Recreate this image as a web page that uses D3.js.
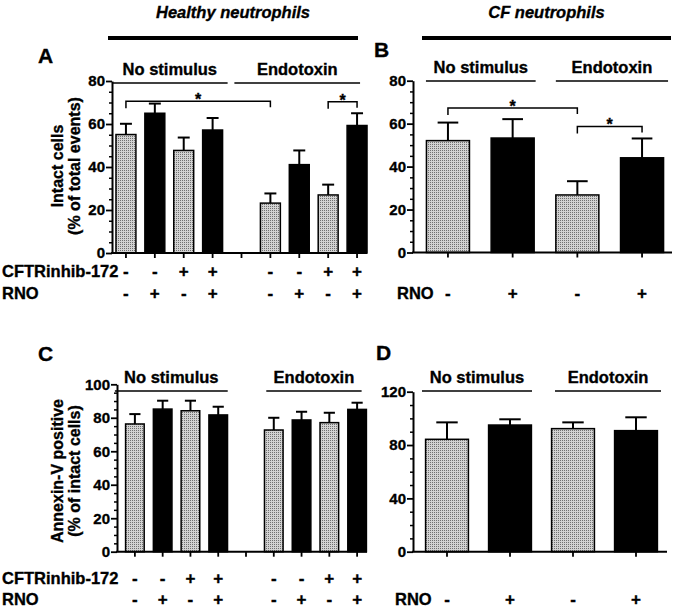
<!DOCTYPE html>
<html><head><meta charset="utf-8">
<script src="https://cdn.jsdelivr.net/npm/d3@7/dist/d3.min.js"></script>
<style>
body{margin:0;background:#fff;}
text{font-family:"Liberation Sans",Arial,sans-serif;font-weight:bold;fill:#000;stroke:#000;stroke-width:0.35px;}
</style></head>
<body>
<svg id="chart" width="677" height="607"></svg>
<script>
// ---------- DATA ----------
const catsHealthy = ["NS -/-","NS -/+","NS +/-","NS +/+","gap","ET -/-","ET -/+","ET +/-","ET +/+"];
const catsCF = ["NS -","NS +","ET -","ET +"];
const cftrRow = ["-","-","+","+","","-","-","+","+"];
const rnoRowHealthy = ["-","+","-","+","","-","+","-","+"];
const rnoRowCF = ["-","+","-","+"];

const intactHealthy    = [55.1, 65.0, 47.7, 57.2, null, 23.2, 41.1, 27.0, 59.3];
const intactHealthyErr = [5.0, 4.5, 6.0, 5.6, null, 4.5, 6.6, 4.8, 5.7];
const intactCF    = [52.1, 53.3, 26.8, 44.1];
const intactCFErr = [8.4, 8.8, 6.4, 9.0];
const annexinHealthy    = [76.3, 85.2, 84.2, 81.7, null, 72.7, 78.7, 77.1, 85.0];
const annexinHealthyErr = [5.9, 5.0, 6.0, 4.9, null, 7.3, 4.9, 5.9, 4.0];
const annexinCF    = [84.3, 95.0, 92.3, 90.8];
const annexinCFErr = [12.7, 4.3, 4.7, 10.0];

const yTicksA = [0,20,40,60,80];
const yTicksB = [0,20,40,60,80];
const yTicksC = [0,20,40,60,80,100];
const yTicksD = [0,40,80,120];

const groupNames = ["No stimulus","Endotoxin"];
// significance: [fromIndex, toIndex, level]
const sigA = [[0,5,70.6],[7,8,70.4]];
const sigB = [[0,2,67.3],[2,3,58.7]];

// ---------- DRAW ----------
const svg = d3.select("#chart");
const defs = svg.append("defs");
const pat = defs.append("pattern").attr("id","stip").attr("width",2).attr("height",2)
  .attr("patternUnits","userSpaceOnUse");
pat.append("rect").attr("width",2).attr("height",2).attr("fill","#d2d2d2");
pat.append("rect").attr("width",1).attr("height",1).attr("fill","#707070");

// header
const headers = [["Healthy neutrophils",108,358],["CF neutrophils",422,671]];
headers.forEach(h=>{
  svg.append("text").attr("x",(h[1]+h[2])/2).attr("y",18).attr("text-anchor","middle")
    .style("font-size","16.5px").style("font-style","italic").text(h[0]);
  svg.append("line").attr("x1",h[1]).attr("x2",h[2]).attr("y1",38).attr("y2",38)
    .attr("stroke","#000").attr("stroke-width",4);
});

function panel(c){
  const g = svg.append("g");
  const x = d3.scaleBand().domain(c.cats).range(c.xRange).paddingInner(c.pad).paddingOuter(c.pad/2);
  const y = d3.scaleLinear().domain(c.yDomain).range(c.yRange);
  const cx = i => x(c.cats[i]) + x.bandwidth()/2;
  const bw = x.bandwidth();
  const y0 = y(0);

  // panel letter
  g.append("text").attr("x",c.letter[1]).attr("y",c.letter[2]).style("font-size","21px").text(c.letter[0]);

  // y axis
  const minor = d3.range(c.yDomain[0], c.yDomain[1]+0.001, c.minorStep).filter(v=>!c.yTicks.includes(v));
  const minAx = g.append("g").attr("transform",`translate(${c.axisX},0)`)
    .call(d3.axisLeft(y).tickValues(minor).tickSize(3).tickSizeOuter(0).tickFormat(""));
  minAx.select(".domain").remove();
  minAx.selectAll("line").attr("stroke-width",1.5);
  const ax = g.append("g").attr("transform",`translate(${c.axisX},0)`)
    .call(d3.axisLeft(y).tickValues(c.yTicks).tickSize(6).tickSizeOuter(0).tickPadding(1).tickFormat(d3.format("d")));
  ax.select(".domain").attr("stroke-width",2);
  ax.selectAll(".tick line").attr("stroke-width",1.8);
  ax.selectAll(".tick text").style("font-size","15px").style("font-family",'"Liberation Sans",Arial,sans-serif')
    .style("font-weight","bold").attr("stroke","#000").attr("stroke-width",0.35);

  // y label
  c.ylabel.forEach((t,i)=>{
    g.append("text").attr("transform",`translate(${c.ylabX[i]},${c.ylabY}) rotate(-90)`)
      .attr("text-anchor","middle").attr("dominant-baseline","central")
      .style("font-size","16px").text(t);
  });

  // error bars (drawn first, bars over them)
  const data = c.values.map((v,i)=>({v, e:c.errs[i], i})).filter(d=>d.v!==null);
  const capW = bw*c.capFrac;
  data.forEach(d=>{
    g.append("line").attr("x1",cx(d.i)).attr("x2",cx(d.i)).attr("y1",y(d.v)).attr("y2",y(d.v+d.e))
      .attr("stroke","#000").attr("stroke-width",2);
    g.append("line").attr("x1",cx(d.i)-capW/2).attr("x2",cx(d.i)+capW/2).attr("y1",y(d.v+d.e)).attr("y2",y(d.v+d.e))
      .attr("stroke","#000").attr("stroke-width",2);
  });
  // bars
  g.selectAll("rect.bar").data(data).enter().append("rect").attr("class","bar")
    .attr("x",d=>x(c.cats[d.i])).attr("width",bw)
    .attr("y",d=>y(d.v)).attr("height",d=>y0-y(d.v))
    .attr("fill",d=>c.rno[d.i]==="+"?"#000":"url(#stip)")
    .attr("stroke","#000").attr("stroke-width",1.5);

  // x axis
  g.append("line").attr("x1",c.axisX-1).attr("x2",c.axisEnd).attr("y1",y0).attr("y2",y0)
    .attr("stroke","#000").attr("stroke-width",2);
  c.cats.forEach((k,i)=>{
    g.append("line").attr("x1",cx(i)).attr("x2",cx(i)).attr("y1",y0).attr("y2",y0+5)
      .attr("stroke","#000").attr("stroke-width",1.8);
  });

  // rows
  c.rows.forEach(r=>{
    g.append("text").attr("x",r.lx).attr("y",r.y).attr("dominant-baseline","central")
      .style("font-size","16.5px").text(r.label);
    r.vals.forEach((s,i)=>{
      if(!s) return;
      g.append("text").attr("x",cx(i)).attr("y",r.y).attr("text-anchor","middle")
        .attr("dominant-baseline","central").style("font-size","17px").text(s);
    });
  });

  // groups
  c.groups.forEach((gr,k)=>{
    const x1 = cx(gr[0]) - gr[2], x2 = cx(gr[1]) + gr[3];
    g.append("line").attr("x1",x1).attr("x2",x2).attr("y1",c.groupY).attr("y2",c.groupY)
      .attr("stroke","#000").attr("stroke-width",1.5);
    g.append("text").attr("x",(x1+x2)/2).attr("y",c.groupY-8).attr("text-anchor","middle")
      .style("font-size","16.5px").text(groupNames[k]);
  });

  // significance
  (c.sig||[]).forEach(s=>{
    const xa = cx(s[0]), xb = cx(s[1]), yy = y(s[2]);
    g.append("path").attr("d",`M${xa},${yy+7}V${yy}H${xb}V${yy+6}`)
      .attr("fill","none").attr("stroke","#000").attr("stroke-width",1.5);
    g.append("text").attr("x",(xa+xb)/2).attr("y",yy+4).attr("text-anchor","middle")
      .style("font-size","16px").text("*");
  });
}

panel({cats:catsHealthy, values:intactHealthy, errs:intactHealthyErr, rno:rnoRowHealthy,
  xRange:[111.5,371.5], pad:0.31, axisX:112, axisEnd:367,
  yDomain:[0,80], yRange:[253,81], yTicks:yTicksA, minorStep:5, capFrac:0.6,
  letter:["A",38,63], ylabel:["Intact cells","(% of total events)"], ylabX:[57,74], ylabY:166,
  rows:[{label:"CFTRinhib-172",lx:2,y:271,vals:cftrRow},{label:"RNO",lx:2,y:293,vals:rnoRowHealthy}],
  groups:[[0,3,14,15],[5,8,36,3]], groupY:83, sig:sigA});

panel({cats:catsCF, values:intactCF, errs:intactCFErr, rno:rnoRowCF,
  xRange:[415.6,674.4], pad:0.335, axisX:413, axisEnd:672,
  yDomain:[0,80], yRange:[252.5,80.7], yTicks:yTicksB, minorStep:5, capFrac:0.48,
  letter:["B",374,57], ylabel:[], ylabX:[], ylabY:0,
  rows:[{label:"RNO",lx:397,y:293,vals:rnoRowCF}],
  groups:[[0,1,22,23],[2,3,21.5,26]], groupY:81, sig:sigB});

panel({cats:catsHealthy, values:annexinHealthy, errs:annexinHealthyErr, rno:rnoRowHealthy,
  xRange:[121,371], pad:0.33, axisX:117, axisEnd:367,
  yDomain:[0,100], yRange:[551.7,384.3], yTicks:yTicksC, minorStep:5, capFrac:0.6,
  letter:["C",38,361], ylabel:["Annexin-V positive","(% of intact cells)"], ylabX:[57,74], ylabY:471,
  rows:[{label:"CFTRinhib-172",lx:2,y:578,vals:cftrRow},{label:"RNO",lx:2,y:599,vals:rnoRowHealthy}],
  groups:[[0,3,20,9.5],[5,8,7.5,4.5]], groupY:391});

panel({cats:catsCF, values:annexinCF, errs:annexinCFErr, rno:rnoRowCF,
  xRange:[415.5,667.5], pad:0.32, axisX:413, axisEnd:667,
  yDomain:[0,120], yRange:[551.7,391.7], yTicks:yTicksD, minorStep:10, capFrac:0.5,
  letter:["D",376,360], ylabel:[], ylabX:[], ylabY:0,
  rows:[{label:"RNO",lx:395,y:599,vals:rnoRowCF}],
  groups:[[0,1,25,22],[2,3,18,25]], groupY:391});
</script>
</body></html>
